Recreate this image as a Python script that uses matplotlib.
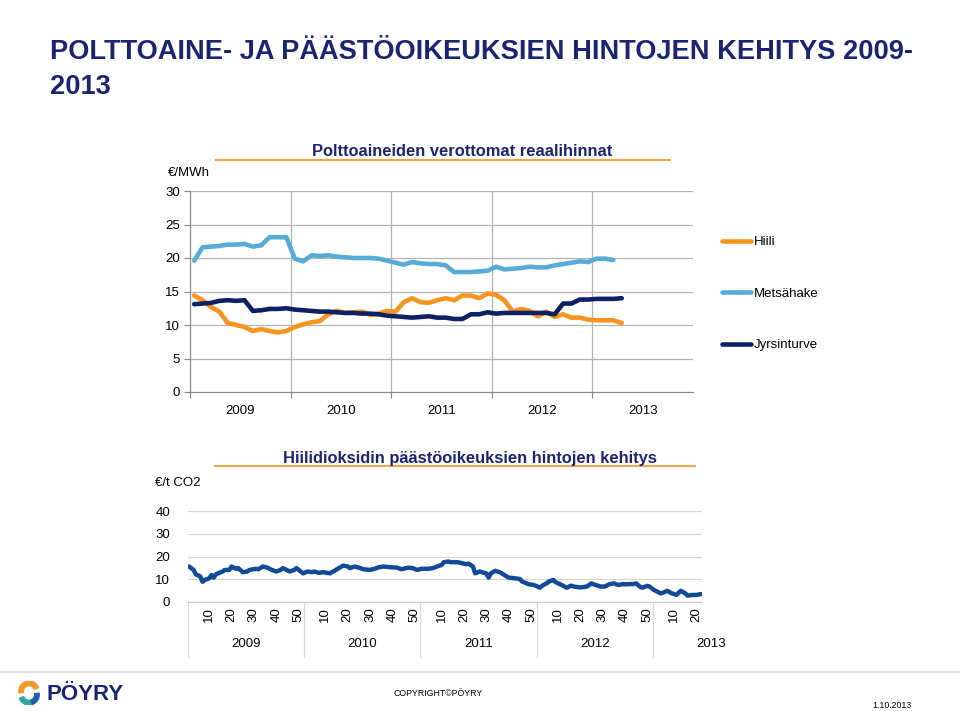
import matplotlib
matplotlib.use("Agg")
import matplotlib.pyplot as plt
import numpy as np
from matplotlib import transforms
from matplotlib.patches import Wedge

plt.rcParams["font.family"] = ["Liberation Sans", "DejaVu Sans"]

# --- data ---
years = ["2009", "2010", "2011", "2012", "2013"]
series_names = ["Hiili", "Metsähake", "Jyrsinturve"]

# monthly prices, EUR/MWh, from Jan 2009
hiili = [14.4, 13.7, 12.7, 12.0, 10.3, 10.0, 9.7, 9.1, 9.4, 9.1, 8.9, 9.1,
         9.7, 10.1, 10.4, 10.6, 11.6, 12.1, 11.8, 11.9, 12.0, 11.5, 11.7, 12.1,
         12.0, 13.4, 14.0, 13.4, 13.3, 13.7, 14.0, 13.7, 14.4, 14.4, 14.0, 14.7,
         14.5, 13.7, 12.0, 12.4, 12.1, 11.3, 12.0, 11.2, 11.6, 11.1, 11.1, 10.8,
         10.7, 10.7, 10.7, 10.3]
metsahake = [19.6, 21.6, 21.7, 21.8, 22.0, 22.0, 22.1, 21.7, 21.9, 23.1, 23.1, 23.1,
             19.9, 19.5, 20.4, 20.3, 20.4, 20.2, 20.1, 20.0, 20.0, 20.0, 19.9, 19.6,
             19.3, 19.0, 19.4, 19.2, 19.1, 19.1, 18.9, 17.9, 17.9, 17.9, 18.0, 18.1,
             18.7, 18.3, 18.4, 18.5, 18.7, 18.6, 18.6, 18.9, 19.1, 19.3, 19.5, 19.4,
             19.9, 19.9, 19.7]
jyrsinturve = [13.1, 13.2, 13.3, 13.6, 13.7, 13.6, 13.7, 12.1, 12.2, 12.4, 12.4, 12.5,
               12.3, 12.2, 12.1, 12.0, 12.0, 11.9, 11.8, 11.8, 11.7, 11.7, 11.6, 11.4,
               11.3, 11.2, 11.1, 11.2, 11.3, 11.1, 11.1, 10.9, 10.9, 11.6, 11.6, 11.9,
               11.7, 11.8, 11.8, 11.8, 11.8, 11.8, 11.8, 11.6, 13.2, 13.2, 13.8, 13.8,
               13.9, 13.9, 13.9, 14.0]

# weekly CO2 allowance price, EUR/t (week counted from first week of 2009)
co2_week = [1, 3, 4, 6, 7, 8, 10, 11, 12, 13, 16, 17, 19, 20, 22, 23, 25, 27, 28,
            31, 32, 34, 36, 38, 40, 42, 43, 46, 48, 49, 52, 54, 56, 57, 59, 61, 64,
            66, 68, 70, 72, 73, 75, 77, 79, 82, 84, 86, 88, 91, 94, 96, 99, 101,
            103, 105, 108, 110, 112, 114, 115, 117, 118, 121, 123, 125, 126, 128,
            129, 131, 132, 134, 135, 136, 138, 140, 142, 144, 147, 149, 150, 152,
            153, 155, 156, 158, 159, 161, 162, 164, 165, 167, 169, 170, 172, 173,
            176, 179, 181, 182, 185, 187, 189, 191, 193, 195, 197, 200, 201, 203,
            204, 206, 207, 209, 212, 213, 215, 217, 219, 221, 223, 224, 226, 228, 230]
co2_price = [15.6, 14.1, 12.2, 11.2, 8.9, 9.7, 10.4, 11.9, 10.7, 12.2, 13.4, 14.1,
             14.1, 15.6, 14.6, 14.9, 13.1, 13.4, 14.1, 14.6, 14.4, 15.6, 15.1, 14.1,
             13.4, 14.1, 14.9, 13.4, 14.1, 14.9, 12.6, 13.4, 13.1, 13.4, 12.8, 13.1,
             12.6, 13.7, 14.9, 16.0, 15.6, 14.9, 15.6, 15.1, 14.4, 14.1, 14.6, 15.3,
             15.6, 15.3, 15.1, 14.4, 15.1, 14.9, 14.1, 14.6, 14.6, 14.9, 15.6, 16.3,
             17.5, 17.8, 17.5, 17.5, 17.1, 16.6, 16.9, 15.6, 12.6, 13.4, 13.1, 12.6,
             10.7, 12.6, 13.7, 13.1, 11.9, 10.7, 10.4, 10.1, 9.0, 8.2, 7.8, 7.5, 7.2,
             6.3, 7.2, 8.2, 9.0, 9.7, 8.7, 7.8, 6.8, 6.3, 7.2, 6.8, 6.4, 6.8, 8.2,
             7.8, 6.8, 6.8, 7.8, 8.2, 7.5, 7.8, 7.8, 7.9, 8.2, 6.5, 6.3, 7.1, 6.8,
             5.3, 3.8, 4.1, 4.9, 3.8, 3.1, 4.9, 3.8, 2.8, 3.1, 3.1, 3.5]
co2_tick_weeks = [10, 20, 30, 40, 50]
weeks_per_year = 52
weeks_shown = 230

NAVY_TEXT = "#1b2472"
ORANGE = "#f7941e"
LIGHT_BLUE = "#56acd6"
DARK_NAVY = "#0f1f63"
CO2_BLUE = "#124a96"
UNDERLINE = "#f0a650"

fig = plt.figure(figsize=(9.6, 7.11), dpi=100)
W, H = 960.0, 711.0


def fx(px):
    return px / W


def fy(py):
    return 1 - py / H


# main title
fig.text(fx(50), fy(52), "POLTTOAINE- JA PÄÄSTÖOIKEUKSIEN HINTOJEN KEHITYS 2009-",
         fontsize=19.6, fontweight="bold", color=NAVY_TEXT, va="center", ha="left")
fig.text(fx(50), fy(87), "2013", fontsize=19.6, fontweight="bold",
         color=NAVY_TEXT, va="center", ha="left")

# --- top chart: fuel prices ---
ax1 = fig.add_axes([fx(190), fy(392), fx(693) - fx(190), fy(191) - fy(392)])
n_months = 12 * len(years)
for vals, color in zip([hiili, metsahake, jyrsinturve], [ORANGE, LIGHT_BLUE, DARK_NAVY]):
    x = np.arange(len(vals)) + 0.5
    ax1.plot(x, vals, color=color, lw=3.3, solid_capstyle="round",
             solid_joinstyle="round")
ax1.set_xlim(0, n_months)
ax1.set_ylim(0, 30)
ax1.set_yticks(np.arange(0, 31, 5))
ax1.set_xticks(np.arange(0, n_months + 1, 12)[:-1])
ax1.set_xticklabels([])
ax1.set_xticks(np.arange(len(years)) * 12 + 6, minor=True)
ax1.set_xticklabels(years, minor=True)
ax1.tick_params(axis="x", which="major", length=4, color="#888888", direction="out")
ax1.tick_params(axis="x", which="minor", length=0, pad=9, labelsize=9.5)
ax1.tick_params(axis="y", length=4, color="#888888", labelsize=9.5, pad=3)
ax1.grid(True, which="major", color="#b4b4b4", lw=0.9)
ax1.set_axisbelow(True)
for s in ["top", "right"]:
    ax1.spines[s].set_visible(False)
for s in ["left", "bottom"]:
    ax1.spines[s].set_color("#888888")

fig.text(fx(168), fy(173), "€/MWh", fontsize=9.5, va="center", ha="left")
fig.text(fx(462), fy(152), "Polttoaineiden verottomat reaalihinnat", fontsize=11.9,
         fontweight="bold", color=NAVY_TEXT, ha="center", va="center")
fig.add_artist(plt.Line2D([fx(216), fx(670)], [fy(160), fy(160)], color=UNDERLINE, lw=1.5))

handles = ax1.get_lines()
fig.legend(handles, series_names, loc="upper left",
           bbox_to_anchor=(fx(722), fy(236)), frameon=False, fontsize=9.5,
           handlelength=2.2, handletextpad=0.2, labelspacing=2.98,
           borderpad=0, borderaxespad=0)

# --- bottom chart: CO2 allowance price ---
ax2 = fig.add_axes([fx(188), fy(602), fx(702) - fx(188), fy(511) - fy(602)])
ax2.plot(np.array(co2_week) - 0.5, co2_price, color=CO2_BLUE, lw=3.2,
         solid_capstyle="round", solid_joinstyle="round")
ax2.set_xlim(0, weeks_shown)
ax2.set_ylim(0, 40)
ax2.set_yticks(np.arange(0, 41, 10))
ax2.yaxis.grid(True, color="#d6d6d6", lw=0.9)
ax2.set_axisbelow(True)
for s in ["top", "right", "left"]:
    ax2.spines[s].set_visible(False)
ax2.spines["bottom"].set_color("#c8c8c8")
ax2.tick_params(axis="y", length=0, labelsize=9.5, pad=13)

tick_pos, tick_lab = [], []
for j in range(len(years)):
    start = j * weeks_per_year
    for w in co2_tick_weeks:
        if start + w <= weeks_shown:
            tick_pos.append(start + w - 0.5)
            tick_lab.append(str(w))
ax2.set_xticks(tick_pos)
ax2.set_xticklabels(tick_lab, rotation=90, fontsize=9.5)
ax2.tick_params(axis="x", length=0, pad=4)

trans = transforms.blended_transform_factory(ax2.transData, ax2.transAxes)
for j, yr in enumerate(years):
    start = j * weeks_per_year
    ax2.plot([start, start], [0, -0.6], transform=trans, color="#dadada", lw=0.9,
             clip_on=False)
    ax2.text(start + weeks_per_year / 2, -0.46, yr, transform=trans, fontsize=9.5,
             ha="center", va="center")

fig.text(fx(155), fy(483), "€/t CO2", fontsize=9.5, va="center", ha="left")
fig.text(fx(470), fy(458), "Hiilidioksidin päästöoikeuksien hintojen kehitys",
         fontsize=11.9, fontweight="bold", color=NAVY_TEXT, ha="center", va="center")
fig.add_artist(plt.Line2D([fx(215), fx(695)], [fy(466), fy(466)], color=UNDERLINE, lw=1.5))

# --- footer ---
fig.add_artist(plt.Line2D([0, 1], [fy(672), fy(672)], color="#d8d8d8", lw=1.2))
logo = fig.add_axes([fx(17), fy(705), fx(24), fy(681) - fy(705)])
logo.set_xlim(-1, 1)
logo.set_ylim(-1, 1)
logo.set_aspect("equal")
logo.axis("off")
logo.add_patch(Wedge((0, 0.15), 0.85, 20, 190, width=0.38, color="#f39a2b"))
logo.add_patch(Wedge((0, -0.15), 0.85, 200, 290, width=0.38, color="#2aa6a0"))
logo.add_patch(Wedge((0, -0.15), 0.85, 290, 370, width=0.38, color="#1d5fa8"))
fig.text(fx(47), fy(694), "PÖYRY", fontsize=16, fontweight="bold", color=NAVY_TEXT,
         ha="left", va="center")
fig.text(fx(393), fy(694), "COPYRIGHT©PÖYRY", fontsize=6.3, ha="left", va="center")
fig.text(fx(872), fy(705), "1.10.2013", fontsize=6.3, ha="left", va="center")

fig.savefig("out.png", dpi=100)
